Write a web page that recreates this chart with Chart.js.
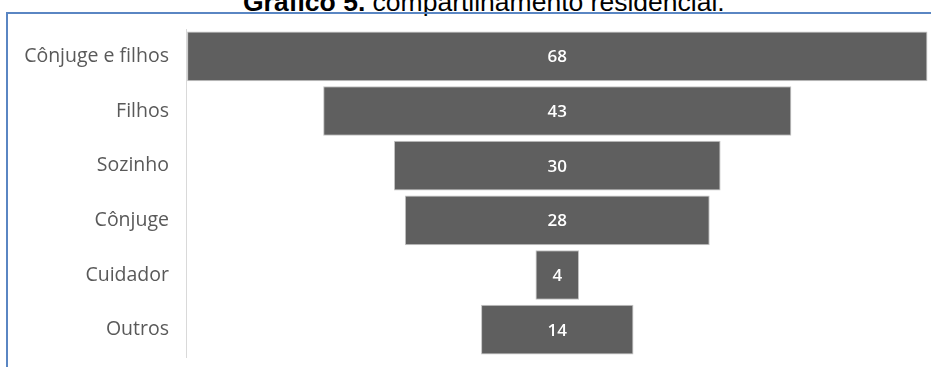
<!DOCTYPE html>
<html lang="pt">
<head>
<meta charset="UTF-8">
<title>Gráfico 5</title>
<script src="https://cdn.jsdelivr.net/npm/chart.js@4.4.1/dist/chart.umd.min.js"></script>
<style>
  body { margin: 0; background: #fff; overflow: hidden; }
  #wrap { position: relative; width: 931px; height: 367px; overflow: hidden; }
  #titulo {
    position: absolute; left: 243px; top: -11px; white-space: nowrap;
    font-family: "Liberation Sans", Arial, sans-serif; font-size: 26.5px; line-height: 26.5px; color: #000;
  }
  #titulo b { font-weight: bold; }
  #caixa {
    position: absolute; left: 6px; top: 12px; right: -4px; bottom: -4px;
    border-left: 2px solid #5a86c3; border-top: 2px solid #5a86c3;
  }
  #grafico { position: absolute; left: 0; top: 0; }
</style>
</head>
<body>
<div id="wrap">
  <div id="titulo"><b>Gráfico 5.</b> compartilhamento residencial.</div>
  <div id="caixa"></div>
  <canvas id="grafico" width="931" height="367"></canvas>
</div>

<script>
// categorias e valores do funil
const categorias = ['Cônjuge e filhos', 'Filhos', 'Sozinho', 'Cônjuge', 'Cuidador', 'Outros'];
const valores = [68, 43, 30, 28, 4, 14];

const maior = Math.max(...valores);
// barras flutuantes centradas no zero para formar o funil
const faixas = valores.map(v => [-v / 2, v / 2]);

// escreve o valor no meio de cada barra
const rotulos = {
  id: 'rotulos',
  afterDatasetsDraw(chart) {
    const ctx = chart.ctx;
    const meta = chart.getDatasetMeta(0);
    ctx.save();
    ctx.fillStyle = '#ffffff';
    ctx.font = '600 17px "Open Sans", sans-serif';
    ctx.textAlign = 'center';
    ctx.textBaseline = 'middle';
    meta.data.forEach((bar, i) => {
      const c = bar.getCenterPoint();
      ctx.fillText(String(valores[i]), c.x, c.y + 1);
    });
    ctx.restore();
  }
};

const chart = new Chart(document.getElementById('grafico'), {
  type: 'bar',
  data: {
    labels: categorias,
    datasets: [{
      data: faixas,
      backgroundColor: '#5f5f5f',
      borderColor: '#c4c4c4',
      borderWidth: 1,
      borderSkipped: false,
      barPercentage: 0.91,
      categoryPercentage: 1
    }]
  },
  options: {
    indexAxis: 'y',
    responsive: false,
    animation: false,
    layout: { padding: { top: 29, bottom: 10, right: 3, left: 0 } },
    plugins: {
      legend: { display: false },
      tooltip: { enabled: false },
      title: { display: false }
    },
    scales: {
      x: {
        display: false,
        min: -maior / 2 - 0.1,
        max: maior / 2 + 0.05
      },
      y: {
        grid: { display: false },
        border: { display: true, color: '#d9d9d9', width: 1 },
        ticks: {
          color: '#595959',
          padding: 9,
          font: { family: '"Open Sans", sans-serif', size: 19.5 }
        },
        afterFit(scale) {
          scale.width = 186;
          scale.paddingTop = 0;
          scale.paddingBottom = 0;
        }
      }
    }
  },
  plugins: [rotulos]
});
</script>
</body>
</html>
